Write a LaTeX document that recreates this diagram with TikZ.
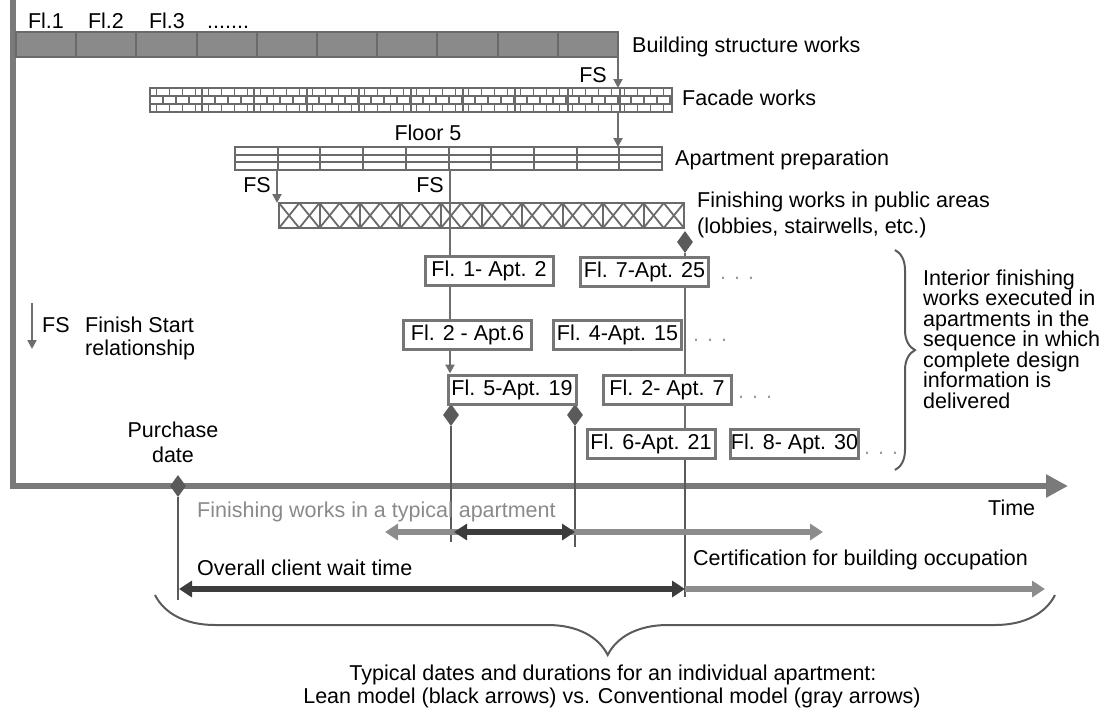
\documentclass[tikz,border=0pt]{standalone}
\usepackage{fontspec}
\setmainfont{Liberation Sans}
\usetikzlibrary{arrows.meta,shapes.geometric,decorations.pathreplacing,calc}

\definecolor{bargray}{HTML}{8A8A8A}
\definecolor{edgegray}{HTML}{6A6A6A}
\definecolor{axisgray}{HTML}{7A7A7A}
\definecolor{linkgray}{HTML}{6E6E6E}
\definecolor{boxgray}{HTML}{767676}
\definecolor{marker}{HTML}{5A5A5A}
\definecolor{lightarrow}{HTML}{8C8C8C}
\definecolor{darkarrow}{HTML}{3C3C3C}
\definecolor{softtext}{HTML}{8A8A8A}
\definecolor{dotgray}{HTML}{9A9A9A}

\begin{document}
\begin{tikzpicture}[x=1pt,y=-1pt,
  font=\fontsize{21.5pt}{21.5pt}\selectfont,
  lbl/.style={anchor=base west,inner sep=0pt},
  lblc/.style={anchor=base,inner sep=0pt},
  barbox/.style={rectangle,inner sep=0pt,outer sep=0pt},
  edge/.style={draw=edgegray,line width=2pt},
  mortar/.style={draw=edgegray,line width=1.8pt},
  hatch/.style={draw=edgegray,line width=1.8pt},
  link/.style={draw=linkgray,line width=2pt},
  fs/.style={link,-{Triangle[length=9pt,width=9pt]}},
  guide/.style={draw=marker,line width=1.5pt},
  apt/.style={draw=boxgray,line width=3pt,fill=white,minimum width=128pt,minimum height=29pt,inner sep=0pt},
  milestone/.style={diamond,fill=marker,inner sep=0pt,minimum width=16pt,minimum height=22pt},
  more/.style={lbl,text=dotgray},
  conv/.style={draw=lightarrow,line width=6pt},
  lean/.style={draw=darkarrow,line width=6pt},
  twotips/.style={arrows={Triangle[length=13pt,width=16pt]-Triangle[length=13pt,width=16pt]}},
  onetip/.style={arrows={-Triangle[length=13pt,width=16pt]}},
  bracket/.style={draw=marker,line width=2pt,decorate},
]
\useasboundingbox (0,0) rectangle (1103,710);

% ---------- time frame ----------
\coordinate (vtop) at (13,0);
\coordinate (axis0) at (10,486);
\coordinate (axis1) at (1068,486);
\draw[draw=axisgray,line width=6pt] (vtop) -- (vtop |- axis0);
\draw[draw=axisgray,line width=6pt,-{Triangle[length=22pt,width=22pt]}] (axis0) -- (axis1);

% ---------- activity bars ----------
% building structure
\node[barbox,fill=bargray,minimum width=602pt,minimum height=25pt] (struct) at (317,44.5) {};
\foreach \k in {1,...,9}
  \draw[edge] ($(struct.north west)!\k/10!(struct.north east)$) -- ($(struct.south west)!\k/10!(struct.south east)$);
\draw[edge] (struct.north west) rectangle (struct.south east);

% facade (brick pattern)
\node[barbox,fill=white,minimum width=522pt,minimum height=24pt] (facade) at (411,100) {};
\begin{scope}
  \clip (facade.north west) rectangle (facade.south east);
  \foreach \r in {1,2}
    \draw[mortar] ($(facade.north west)+(0,8*\r)$) -- ++(522,0);
  \foreach \k in {0,...,40} {
    \draw[mortar] ($(facade.north west)+(13*\k+6.5,0)$) -- ++(0,8);
    \draw[mortar] ($(facade.north west)+(13*\k,8)$) -- ++(0,8);
    \draw[mortar] ($(facade.north west)+(13*\k+6.5,16)$) -- ++(0,8);
  }
\end{scope}
\foreach \k in {1,...,9}
  \draw[edge] ($(facade.north west)!\k/10!(facade.north east)$) -- ($(facade.south west)!\k/10!(facade.south east)$);
\draw[edge] (facade.north west) rectangle (facade.south east);

% apartment preparation (striped)
\node[barbox,fill=white,minimum width=427pt,minimum height=23pt] (prep) at (448.5,158.5) {};
\foreach \f in {1,2}
  \draw[mortar] ($(prep.north west)!\f/3!(prep.south west)$) -- ($(prep.north east)!\f/3!(prep.south east)$);
\foreach \k in {1,...,9}
  \draw[edge] ($(prep.north west)!\k/10!(prep.north east)$) -- ($(prep.south west)!\k/10!(prep.south east)$);
\draw[edge] (prep.north west) rectangle (prep.south east);

% public areas (cross-hatched)
\node[barbox,fill=white,minimum width=405pt,minimum height=25pt] (public) at (481.5,215.5) {};
\begin{scope}
  \clip (public.north west) rectangle (public.south east);
  \foreach \k in {-1,...,21} {
    \draw[hatch] ($(public.north west)+(20.25*\k,0)$) -- ++(20.25,25);
    \draw[hatch] ($(public.north west)+(20.25*\k+20.25,0)$) -- ++(-20.25,25);
  }
\end{scope}
\foreach \k in {1,...,9}
  \draw[edge] ($(public.north west)!\k/10!(public.north east)$) -- ($(public.south west)!\k/10!(public.south east)$);
\draw[edge] (public.north west) rectangle (public.south east);

% ---------- bar labels ----------
\node[lblc] (fl1) at (46,28) {Fl.1};
\node[lblc] (fl2) at (106,28) {Fl.2};
\node[lblc] (fl3) at (167,28) {Fl.3};
\node[lbl] (fldots) at (207,28) {.......};
\node[lbl] (lstruct) at (632,52) {Building structure works};
\node[lbl] (lfacade) at (682,105) {Facade works};
\node[lblc] (lfloor) at (428,140) {Floor 5};
\node[lbl] (lprep) at (675,165) {Apartment preparation};
\node[lbl] (lpub1) at (697,207) {Finishing works in public areas};
\node[lbl] (lpub2) at (697,233) {(lobbies, stairwells, etc.)};

% ---------- vertical tracks ----------
\coordinate (tS) at (618,0);
\coordinate (tP) at (277,0);
\coordinate (tA) at (450,0);
\coordinate (tB) at (575,0);
\coordinate (tC) at (685,0);
\coordinate (tD) at (178,0);

% ---------- apartment boxes ----------
\coordinate (cA1) at (489,271);
\coordinate (cA2) at (644.5,272);
\coordinate (cB1) at (467.5,334.5);
\coordinate (cB2) at (617.5,334.5);
\coordinate (cC1) at (512,389.5);
\coordinate (cC2) at (667,389.5);
\coordinate (cD1) at (651,444);
\coordinate (cD2) at (794.5,444);

% connectors between the bars
\draw[fs] (struct.south east) -- (struct.south east |- facade.north);
\node[lblc] (fs1) at (593,82) {FS};
\draw[fs] (tS |- facade.south) -- (tS |- prep.north);
\draw[fs] (tP |- prep.south) -- (tP |- public.north);
\node[lblc] (fs2) at (257,192) {FS};
\node[lblc] (fs3) at (430,192) {FS};

% milestones
\node[milestone] (dm1) at (685,242) {};
\node[milestone] (dm2) at (451,415) {};
\node[milestone] (dm3) at (575,415) {};

% track lines (drawn beneath the boxes)
\draw[link] (tA |- prep.south) -- (tA |- cA1);
\draw[link] (dm1) -- (tC |- cA2);
\draw[link] (tA |- cA1) -- (tA |- cB1);
\draw[link] (tC |- cA2) -- (tC |- cD1);

\node[apt] (a1) at (cA1) {Fl. 1- Apt. 2};
\node[apt] (a2) at (cA2) {Fl. 7-Apt. 25};
\node[apt] (b1) at (cB1) {Fl. 2 - Apt.6};
\node[apt] (b2) at (cB2) {Fl. 4-Apt. 15};
\node[apt] (c1) at (cC1) {Fl. 5-Apt. 19};
\node[apt] (c2) at (cC2) {Fl. 2- Apt. 7};
\node[apt] (d1) at (cD1) {Fl. 6-Apt. 21};
\node[apt] (d2) at (cD2) {Fl. 8- Apt. 30};

\draw[fs] (tA |- b1.south) -- (tA |- c1.north);

\node[more] (m1) at (720,279) {. . .};
\node[more] (m2) at (693,341) {. . .};
\node[more] (m3) at (738,398) {. . .};
\node[more] (m4) at (864,454) {. . .};

% right-hand brace and note
\coordinate (rb0) at (895,250);
\coordinate (rb1) at (895,470);
\draw[bracket,decoration={brace,amplitude=20pt,aspect=0.455}] (rb0) -- (rb1);
\foreach \t [count=\i from 0] in {Interior finishing,works executed in,apartments in the,sequence in which,complete design,information is,delivered}
  \node[lbl,name=note\i] at (923,285+20.5*\i) {\t};

% legend
\coordinate (lg0) at (32,303);
\coordinate (lg1) at (32,349);
\draw[fs] (lg0) -- (lg1);
\node[lbl] (lgfs) at (42,332) {FS};
\node[lbl] (lgt1) at (85,332) {Finish Start};
\node[lbl] (lgt2) at (85,355) {relationship};

% ---------- dates and durations below the axis ----------
\node[lblc] (pur1) at (173,437) {Purchase};
\node[lblc] (pur2) at (173,462) {date};
\node[lbl] (ltime) at (988,515) {Time};

\coordinate (endD) at (178,600);
\coordinate (endA) at (451,542);
\coordinate (endB) at (575,547);
\coordinate (endC) at (685,597);
\draw[guide] (dm2) -- (endA);
\draw[guide] (dm3) -- (endB);
\draw[guide] (tC |- d1.south) -- (endC);
\node[milestone] (dm4) at (178,486) {};
\draw[guide] (dm4) -- (endD);

\node[lbl,text=softtext] (ltyp) at (197,517) {Finishing works in a typical apartment};
\node[lbl] (lcert) at (693,565) {Certification for building occupation};
\node[lbl] (lwait) at (197,575) {Overall client wait time};

\coordinate (rowA) at (0,532);
\coordinate (rowB) at (0,589);
\coordinate (gA0) at (385,532);
\coordinate (gA1) at (823,532);
\coordinate (gB1) at (1045,589);
\draw[conv,twotips] (gA0) -- (gA1);
\draw[lean,twotips] ($(endA |- rowA)+(3,0)$) -- (endB |- rowA);
\draw[conv,onetip] (endC |- rowB) -- (gB1);
\draw[lean,twotips] ($(endD |- rowB)+(1,0)$) -- (endC |- rowB);

% bottom brace and caption
\coordinate (bb0) at (1055,595);
\coordinate (bb1) at (155,595);
\draw[bracket,decoration={brace,amplitude=60pt,aspect=0.497}] (bb0) -- (bb1);
\node[lblc] (cap1) at (613,680) {Typical dates and durations for an individual apartment:};
\node[lblc] (cap2) at (612,703) {Lean model (black arrows) vs. Conventional model (gray arrows)};
\end{tikzpicture}
\end{document}
